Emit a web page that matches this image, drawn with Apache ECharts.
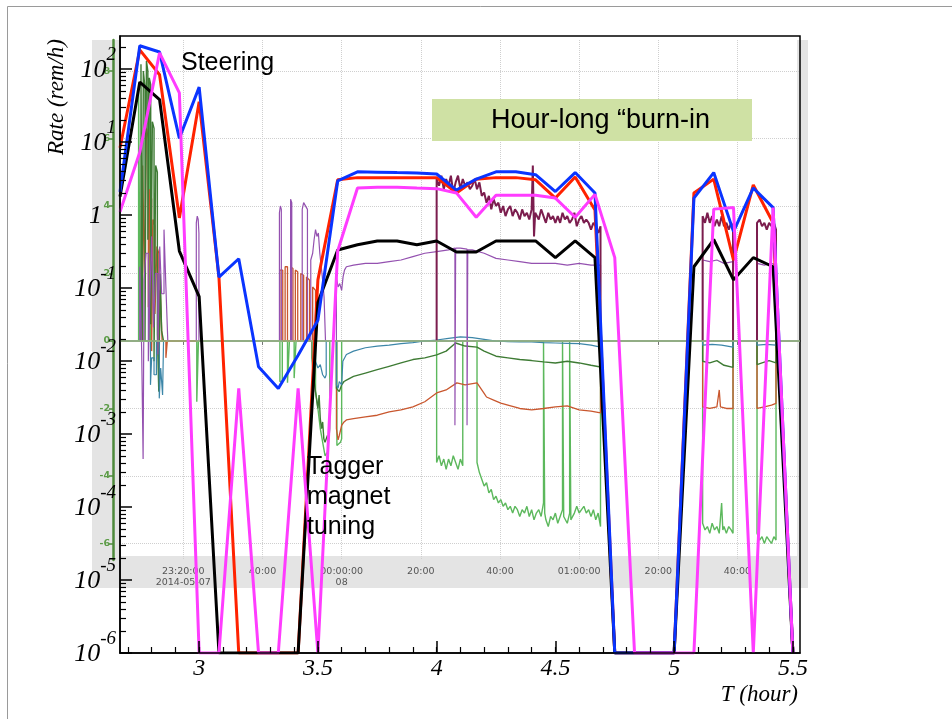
<!DOCTYPE html>
<html>
<head>
<meta charset="utf-8">
<script src="https://cdn.jsdelivr.net/npm/echarts@6/dist/echarts.min.js"></script>
<style>
  html, body { margin: 0; padding: 0; background: #fff; }
  #main { width: 952px; height: 719px; }
</style>
</head>
<body>
<div id="main"></div>
<script>
// time of each 5 min sample (hours)
var hours = [2.6667, 2.75, 2.8333, 2.9167, 3.0, 3.0833, 3.1667, 3.25, 3.3333, 3.4167,
             3.5, 3.5833, 3.6667, 3.75, 3.8333, 3.9167, 4.0, 4.0833, 4.1667, 4.25,
             4.3333, 4.4167, 4.5, 4.5833, 4.6667, 4.75, 4.8333, 4.9167, 5.0, 5.0833,
             5.1667, 5.25, 5.3333, 5.4167, 5.5];

// dose rates (rem/h), 1e-6 = nothing seen
var blueRate = [2.07, 207, 170, 11.2, 56.2, 0.141, 0.251, 0.0083, 0.0042, 0.012,
                0.036, 2.92, 3.89, 3.85, 3.80, 3.76, 3.63, 2.19, 3.09, 3.89,
                3.89, 3.55, 2.09, 3.80, 2.0, 1e-6, 1e-6, 1e-6, 1e-6, 1.70,
                3.80, 0.59, 2.34, 1.26, 1e-6];
var redRate = [8.3, 182, 83, 0.91, 35.5, 0.141, 1e-6, 1e-6, 1e-6, 1e-6,
               0.129, 3.02, 3.24, 3.24, 3.24, 3.24, 3.24, 2.0, 3.09, 3.24,
               3.24, 3.02, 1.70, 3.31, 1.17, 1e-6, 1e-6, 1e-6, 1e-6, 2.0,
               3.09, 0.24, 2.57, 0.78, 1e-6];
var blackRate = [1.78, 66, 38, 0.32, 0.076, 1e-6, 1e-6, 1e-6, 1e-6, 1e-6,
                 0.063, 0.33, 0.39, 0.44, 0.44, 0.39, 0.44, 0.31, 0.31, 0.44,
                 0.44, 0.44, 0.26, 0.44, 0.26, 1e-6, 1e-6, 1e-6, 1e-6, 0.195,
                 0.46, 0.129, 0.26, 0.195, 1e-6];
var magentaRate = [1.10, 7.2, 166, 46.8, 1e-6, 1e-6, 0.0042, 1e-6, 1e-6, 0.0042,
                   1e-6, 0.32, 2.34, 2.40, 2.40, 2.34, 2.29, 2.0, 0.93, 1.86,
                   1.86, 1.86, 1.70, 0.93, 1.91, 0.26, 1e-6, 1e-6, 1e-6, 1e-6,
                   1.20, 1.26, 1e-6, 1.26, 1e-6];

var xLabelValues = [3, 3.5, 4, 4.5, 5, 5.5];
var yLabelValues = [1e-6, 1e-5, 1e-4, 1e-3, 1e-2, 1e-1, 1, 10, 100];

// background monitor screenshot: its own clock axis and level scale
var clockT = [2.9333, 3.2667, 3.6, 3.9333, 4.2667, 4.6, 4.9333, 5.2667];
var clockLabels = ['23:20:00\n2014-05-07', '40:00', '00:00:00\n08', '20:00', '40:00', '01:00:00', '20:00', '40:00'];
var levelTicks = [-6, -4, -2, 0, 2, 4, 6, 8];

var maroonPts = [
  [4.000, 0], [4.000, 4.8], [4.010, 4.6], [4.020, 4.9], [4.030, 4.5], [4.040, 4.8], [4.050, 4.6], [4.060, 4.9],
  [4.070, 4.4], [4.080, 4.7], [4.090, 4.9], [4.100, 4.5], [4.110, 4.8], [4.120, 4.6], [4.130, 4.7], [4.140, 4.5],
  [4.150, 4.6], [4.160, 4.8], [4.170, 4.5], [4.180, 4.7], [4.190, 4.3], [4.200, 4.4], [4.210, 4.1], [4.220, 4.3],
  [4.230, 3.9], [4.240, 4.2], [4.250, 4.0], [4.260, 4.1], [4.270, 3.8], [4.280, 4.0], [4.290, 3.7], [4.300, 3.9],
  [4.310, 4.0], [4.320, 3.7], [4.330, 3.9], [4.340, 3.8], [4.350, 3.6], [4.360, 3.9], [4.370, 3.7], [4.380, 3.8],
  [4.390, 3.6], [4.400, 3.9], [4.405, 5.2], [4.410, 3.1], [4.415, 3.8], [4.430, 3.6], [4.440, 3.9], [4.450, 3.7],
  [4.460, 3.5], [4.470, 3.8], [4.480, 3.6], [4.490, 3.7], [4.500, 3.5], [4.510, 3.7], [4.520, 3.5], [4.530, 3.8],
  [4.540, 3.6], [4.550, 3.7], [4.560, 3.5], [4.570, 3.6], [4.580, 3.8], [4.590, 3.4], [4.600, 3.6], [4.610, 3.7],
  [4.620, 3.5], [4.630, 3.6], [4.640, 3.5], [4.650, 3.3], [4.660, 3.5], [4.670, 3.4], [4.680, 3.2], [4.690, 3.4],
  [4.690, 0], [4.691, null],
  [5.120, 0], [5.120, 3.7], [5.130, 3.5], [5.140, 3.8], [5.150, 3.5], [5.160, 3.7], [5.170, 3.4], [5.180, 3.6],
  [5.190, 3.4], [5.200, 3.7], [5.210, 3.4], [5.220, 3.5], [5.230, 3.3], [5.240, 3.5], [5.248, 3.4], [5.248, 0], [5.249, null],
  [5.349, 0], [5.349, 3.5], [5.360, 3.6], [5.370, 3.4], [5.380, 3.5], [5.390, 3.3], [5.400, 3.5], [5.410, 3.4],
  [5.420, 3.5], [5.429, 3.3], [5.429, 0]
];
var purplePts = [
  [2.750, 0], [2.750, 2.2], [2.758, 2.2], [2.758, -0.3], [2.764, -0.3], [2.764, -3.5], [2.768, -3.5], [2.768, 1.8],
  [2.776, 1.8], [2.776, 2.6], [2.786, 2.6], [2.786, -0.6], [2.792, -0.6], [2.792, 1.2], [2.800, 1.2], [2.800, 3.1],
  [2.808, 3.1], [2.808, 0.4], [2.816, 0.4], [2.816, 2.0], [2.826, 2.0], [2.826, -0.4], [2.834, -0.4], [2.834, 2.8],
  [2.842, 2.8], [2.842, 1.4], [2.852, 1.4], [2.852, 3.3], [2.860, 3.3], [2.860, 1.6], [2.868, 1.6], [2.868, 0], [2.869, null],
  [2.988, 0], [2.988, 3.5], [2.992, 3.7], [2.996, 3.6], [2.999, 3.2], [2.999, 0], [3.000, null],
  [3.338, 0], [3.338, 3.8], [3.342, 4.0], [3.346, 3.9], [3.346, 0], [3.347, null],
  [3.385, 0], [3.385, 4.2], [3.390, 4.1], [3.390, 0], [3.391, null],
  [3.434, 0], [3.434, 3.9], [3.440, 4.1], [3.448, 4.1], [3.456, 3.9], [3.456, 0], [3.457, null],
  [3.470, 0], [3.470, 2.4], [3.478, 2.6], [3.484, 3.0], [3.490, 3.3], [3.496, 3.1], [3.502, 3.2], [3.508, 2.6],
  [3.514, 2.2], [3.520, 1.8], [3.526, 1.3], [3.532, 0], [3.533, null],
  [3.578, 0], [3.578, 1.9], [3.585, 1.6], [3.592, 1.7], [3.600, 1.5], [3.606, 1.9], [3.612, 2.1], [3.620, 2.2],
  [3.650, 2.25], [3.700, 2.3], [3.750, 2.3], [3.800, 2.35], [3.850, 2.4], [3.900, 2.5], [3.950, 2.6], [4.000, 2.65],
  [4.050, 2.7], [4.077, 2.75], [4.077, -2.5], [4.080, -2.5], [4.080, 2.75], [4.100, 2.75], [4.128, 2.72], [4.128, -2.5],
  [4.131, -2.5], [4.131, 2.7], [4.150, 2.7], [4.200, 2.6], [4.250, 2.45], [4.300, 2.4], [4.350, 2.35], [4.400, 2.3],
  [4.450, 2.3], [4.500, 2.3], [4.550, 2.25], [4.600, 2.3], [4.650, 2.25], [4.690, 2.25], [4.690, 0], [4.691, null],
  [5.120, 0], [5.120, 2.4], [5.150, 2.35], [5.180, 2.4], [5.210, 2.3], [5.248, 2.35], [5.248, 0], [5.249, null],
  [5.349, 0], [5.349, 2.3], [5.380, 2.25], [5.410, 2.3], [5.429, 2.25], [5.429, 0]
];
var tealPts = [
  [2.795, 0], [2.795, -1.3], [2.800, -1.3], [2.800, -0.5], [2.810, -0.5], [2.810, -1.0], [2.820, -1.0], [2.820, 0], [2.821, null],
  [2.832, 0], [2.832, -1.7], [2.838, -1.7], [2.838, -0.8], [2.846, -0.8], [2.846, -1.6], [2.850, -1.6], [2.850, 0], [2.851, null],
  [3.490, 0], [3.490, -0.6], [3.500, -0.8], [3.510, -0.7], [3.520, -1.0], [3.530, -1.1], [3.535, -1.0], [3.535, 0], [3.536, null],
  [3.578, 0], [3.578, -1.3], [3.585, -1.4], [3.590, -1.2], [3.600, -1.3], [3.605, -0.6], [3.620, -0.4], [3.650, -0.3],
  [3.700, -0.2], [3.750, -0.15], [3.800, -0.12], [3.850, -0.08], [3.900, -0.05], [3.950, 0.0], [4.000, 0.03], [4.050, 0.08],
  [4.100, 0.12], [4.150, 0.1], [4.200, 0.05], [4.250, 0.0], [4.300, -0.02], [4.350, -0.03], [4.400, -0.03], [4.450, -0.05],
  [4.500, -0.06], [4.550, -0.07], [4.600, -0.08], [4.650, -0.12], [4.690, -0.18], [4.690, 0], [4.691, null],
  [5.120, 0], [5.120, -0.12], [5.160, -0.1], [5.200, -0.12], [5.248, -0.18], [5.248, 0], [5.249, null],
  [5.349, 0], [5.349, -0.12], [5.390, -0.1], [5.429, -0.12], [5.429, 0]
];
var darkGreenPts = [
  [2.755, 0], [2.755, 8.2], [2.760, 8.2], [2.760, 0], [2.765, 0], [2.765, 8.0], [2.772, 7.5], [2.772, 0],
  [2.778, 0], [2.778, 8.3], [2.784, 8.0], [2.784, 3.0], [2.790, 3.0], [2.790, 7.8], [2.796, 7.6], [2.796, 0.5],
  [2.803, 0.5], [2.803, 6.5], [2.810, 6.3], [2.810, -0.6], [2.817, -0.6], [2.817, 5.2], [2.824, 5.0], [2.824, 0.2],
  [2.830, 0.2], [2.830, -1.5], [2.836, -1.5], [2.836, 2.0], [2.842, 2.0], [2.842, 0.3], [2.850, 0.3], [2.850, 0], [2.851, null],
  [3.475, 0], [3.475, -0.5], [3.480, -1.0], [3.490, -1.5], [3.500, -2.0], [3.505, -1.6], [3.510, -2.3], [3.515, -2.6],
  [3.520, -2.4], [3.525, -2.9], [3.530, -3.0], [3.540, -2.8], [3.541, null],
  [3.578, 0], [3.578, -1.4], [3.590, -1.5], [3.600, -1.3], [3.610, -1.2], [3.620, -1.16], [3.650, -1.05], [3.700, -0.95],
  [3.750, -0.85], [3.800, -0.75], [3.850, -0.65], [3.900, -0.55], [3.950, -0.5], [4.000, -0.41], [4.040, -0.3], [4.080, -0.06],
  [4.120, -0.15], [4.170, -0.18], [4.200, -0.3], [4.250, -0.45], [4.300, -0.5], [4.350, -0.55], [4.400, -0.58], [4.450, -0.62],
  [4.500, -0.65], [4.550, -0.6], [4.600, -0.65], [4.650, -0.72], [4.690, -0.77], [4.690, 0], [4.691, null],
  [5.120, 0], [5.120, -0.6], [5.150, -0.65], [5.180, -0.58], [5.210, -0.72], [5.248, -0.78], [5.248, 0], [5.249, null],
  [5.349, 0], [5.349, -0.7], [5.370, -0.65], [5.400, -0.58], [5.429, -0.65], [5.429, 0]
];
var orangePts = [
  [2.762, 0], [2.762, 5.2], [2.770, 5.2], [2.770, 2.0], [2.778, 2.0], [2.778, 6.3], [2.786, 6.0], [2.786, 1.0],
  [2.792, 1.0], [2.792, 4.5], [2.800, 4.2], [2.800, -0.3], [2.806, -0.3], [2.806, 3.6], [2.814, 3.4], [2.814, 0.8],
  [2.822, 0.8], [2.822, 2.8], [2.830, 2.6], [2.830, -0.8], [2.836, -0.8], [2.836, 1.5], [2.844, 1.5], [2.844, 0],
  [2.860, 0], [2.860, -0.5], [2.866, -0.5], [2.866, 0], [2.991, 0], [2.992, null],
  [3.340, 0], [3.340, 2.1], [3.352, 2.1], [3.352, 0], [3.362, 0], [3.362, 2.2], [3.372, 2.2], [3.372, 0],
  [3.385, 0], [3.385, 2.2], [3.395, 2.15], [3.395, 0], [3.405, 0], [3.405, 2.1], [3.415, 2.05], [3.415, 0],
  [3.428, 0], [3.428, 2.0], [3.440, 1.95], [3.440, 0], [3.452, 0], [3.452, 1.9], [3.465, 1.8], [3.465, 0],
  [3.478, 0], [3.478, 1.6], [3.490, 1.5], [3.490, 0], [3.491, null],
  [3.578, 0], [3.578, -2.6], [3.585, -2.93], [3.590, -2.8], [3.600, -2.5], [3.610, -2.4], [3.620, -2.34], [3.650, -2.3],
  [3.700, -2.25], [3.750, -2.2], [3.800, -2.1], [3.850, -2.04], [3.900, -1.95], [3.950, -1.8], [4.000, -1.54], [4.040, -1.45],
  [4.085, -1.24], [4.120, -1.3], [4.170, -1.24], [4.200, -1.55], [4.210, -1.66], [4.240, -1.75], [4.270, -1.84], [4.300, -1.9],
  [4.350, -2.0], [4.400, -2.04], [4.450, -2.0], [4.500, -1.95], [4.550, -1.92], [4.600, -2.04], [4.650, -2.08], [4.690, -2.13],
  [4.690, 0], [4.691, null],
  [5.120, 0], [5.120, -1.95], [5.150, -2.0], [5.180, -1.95], [5.190, -1.45], [5.195, -1.95], [5.220, -2.0], [5.248, -2.0],
  [5.248, 0], [5.249, null],
  [5.349, 0], [5.349, -2.0], [5.380, -1.95], [5.410, -1.9], [5.429, -1.85], [5.429, 0]
];
var lightGreenPts = [
  [2.745, 0], [2.745, 7.5], [2.752, 7.5], [2.752, 0], [2.790, 0], [2.790, 7.0], [2.796, 7.0], [2.796, 0], [2.797, null],
  [2.990, 0], [2.990, -1.8], [2.997, -1.8], [2.997, 0], [2.998, null],
  [3.340, 0], [3.340, -1.2], [3.350, -1.2], [3.350, 0], [3.372, 0], [3.372, -1.24], [3.380, -1.2], [3.380, 0],
  [3.400, 0], [3.400, -1.1], [3.408, -1.1], [3.408, 0], [3.409, null],
  [3.490, 0], [3.490, -1.5], [3.500, -2.0], [3.510, -2.6], [3.520, -3.0], [3.530, -3.4], [3.540, -3.3], [3.550, -2.6], [3.550, 0], [3.551, null],
  [3.580, 0], [3.580, -3.1], [3.595, -3.0], [3.600, -2.9], [3.600, 0], [3.601, null],
  [4.000, 0], [4.000, -3.6], [4.010, -3.4], [4.020, -3.7], [4.030, -3.5], [4.040, -3.8], [4.050, -3.5], [4.060, -3.7],
  [4.070, -3.4], [4.080, -3.6], [4.090, -3.8], [4.100, -3.5], [4.110, -3.7], [4.110, 0], [4.111, null],
  [4.170, 0], [4.170, -3.6], [4.180, -3.9], [4.190, -4.1], [4.200, -4.3], [4.210, -4.2], [4.220, -4.5], [4.230, -4.4],
  [4.240, -4.7], [4.250, -4.6], [4.260, -4.8], [4.270, -4.7], [4.280, -4.9], [4.290, -4.8], [4.300, -5.0], [4.310, -4.9],
  [4.320, -5.1], [4.330, -4.9], [4.340, -5.0], [4.350, -5.2], [4.360, -5.0], [4.370, -5.1], [4.380, -4.9], [4.390, -5.2],
  [4.400, -5.0], [4.410, -5.3], [4.420, -5.1], [4.430, -5.0], [4.440, -5.2], [4.450, -4.8], [4.450, 0], [4.455, 0],
  [4.455, -5.1], [4.460, -5.3], [4.470, -5.5], [4.480, -5.2], [4.490, -5.3], [4.500, -5.1], [4.510, -5.4], [4.520, -5.2],
  [4.530, -5.0], [4.530, 0], [4.535, 0], [4.535, -5.2], [4.550, -5.4], [4.560, -5.1], [4.560, 0], [4.565, 0],
  [4.565, -5.3], [4.580, -5.1], [4.590, -4.9], [4.600, -5.1], [4.610, -5.0], [4.620, -4.9], [4.630, -5.1], [4.640, -5.0],
  [4.650, -5.2], [4.660, -5.0], [4.670, -5.3], [4.680, -5.1], [4.690, -5.5], [4.690, 0], [4.691, null],
  [5.120, 0], [5.120, -5.4], [5.130, -5.6], [5.140, -5.5], [5.150, -5.7], [5.160, -5.4], [5.170, -5.6], [5.180, -5.5],
  [5.190, -5.7], [5.200, -4.8], [5.205, -5.6], [5.210, -5.5], [5.220, -5.7], [5.230, -5.5], [5.240, -5.6], [5.248, -5.7],
  [5.248, 0], [5.249, null],
  [5.349, 0], [5.349, -5.7], [5.360, -5.9], [5.370, -5.8], [5.380, -6.0], [5.390, -5.8], [5.400, -5.9], [5.410, -6.0],
  [5.420, -5.8], [5.429, -5.9], [5.429, 0]
];

var serif = 'Liberation Serif';
var sans = 'Liberation Sans';
var xMin = 2.6667, xMax = 5.53;
var yMin = 1e-6, yMax = 282;

var minorX = [];
for (var t = 27; t <= 55; t++) minorX.push(t / 10);
var minorY = [];
for (var k = -6; k <= 2; k++) {
	for (var m = 2; m <= 9; m++) {
		if (m * Math.pow(10, k) < yMax) minorY.push(m * Math.pow(10, k));
	}
}

function pairs(xs, ys) {
	var out = [];
	for (var i = 0; i < xs.length; i++) out.push([xs[i], ys[i]]);
	return out;
}

function mainLine(name, color, rates) {
	return {
		name: name, type: 'line', xAxisIndex: 0, yAxisIndex: 0,
		data: pairs(hours, rates), symbol: 'none', z: 5, silent: true,
		lineStyle: { color: color, width: 3 }
	};
}

function traceLine(name, color, pts, width, extra) {
	var s = {
		name: name, type: 'line', xAxisIndex: 1, yAxisIndex: 1,
		data: pts, symbol: 'none', z: 3, silent: true,
		lineStyle: { color: color, width: width }
	};
	if (extra) s.markLine = extra;
	return s;
}

var chart = echarts.init(document.getElementById('main'), null, { renderer: 'canvas' });

var option = {
	animation: false,
	backgroundColor: '#fff',
	grid: [
		{ left: 120, right: 152, top: 36, bottom: 66, show: true, borderColor: '#000', borderWidth: 1.5, backgroundColor: 'transparent', z: 4 },
		{ left: 120, right: 152, top: 40, bottom: 159 }
	],
	xAxis: [
		{
			type: 'value', gridIndex: 0, min: xMin, max: xMax, position: 'bottom', z: 6,
			axisLine: { lineStyle: { color: '#000', width: 1.5 } },
			axisTick: { inside: true, length: 6, customValues: minorX, lineStyle: { color: '#000', width: 1.2 } },
			axisLabel: {
				customValues: xLabelValues, margin: 4,
				fontFamily: serif, fontStyle: 'italic', fontSize: 24, color: '#000'
			},
			splitLine: { show: false }
		},
		{
			type: 'value', gridIndex: 1, min: xMin, max: xMax, position: 'bottom',
			axisLine: { lineStyle: { color: '#8a8a8a', width: 2 } },
			axisTick: { length: 4, customValues: clockT, lineStyle: { color: '#777' } },
			axisLabel: {
				customValues: clockT, margin: 6,
				fontFamily: 'DejaVu Sans', fontSize: 9.5, color: '#555', lineHeight: 11,
				formatter: function (v) {
					for (var i = 0; i < clockT.length; i++) {
						if (Math.abs(clockT[i] - v) < 0.01) return clockLabels[i];
					}
					return '';
				}
			},
			splitLine: { show: true, lineStyle: { color: '#cfcfcf', type: 'dotted', width: 1 } }
		},
		{
			type: 'value', gridIndex: 0, min: xMin, max: xMax, position: 'bottom', z: 6,
			axisLine: { show: false },
			axisTick: { inside: true, length: 12, customValues: xLabelValues, lineStyle: { color: '#000', width: 1.5 } },
			axisLabel: { show: false },
			splitLine: { show: false }
		}
	],
	yAxis: [
		{
			type: 'log', gridIndex: 0, min: yMin, max: yMax, position: 'left', z: 6,
			axisLine: { show: true, lineStyle: { color: '#000', width: 1.5 } },
			axisTick: { show: true, inside: true, length: 6, customValues: minorY, lineStyle: { color: '#000', width: 1.2 } },
			axisLabel: {
				customValues: yLabelValues, margin: 4, padding: [0, 0, 9, 0],
				formatter: function (v) {
					var e = Math.round(Math.log(v) / Math.LN10);
					if (e === 0) return '{b|1}{sp|}';
					return '{b|10}{e|' + e + '}';
				},
				rich: {
					b: { fontFamily: serif, fontStyle: 'italic', fontSize: 26, color: '#000', verticalAlign: 'bottom', lineHeight: 38 },
					e: { fontFamily: serif, fontStyle: 'italic', fontSize: 19, color: '#000', verticalAlign: 'top', lineHeight: 20 },
					sp: { width: 14 }
				}
			},
			splitLine: { show: false }
		},
		{
			type: 'value', gridIndex: 1, min: -6.49, max: 8.92, position: 'left', offset: 7,
			axisLine: { show: true, lineStyle: { color: '#4e8a3c', width: 2.5 } },
			axisTick: { show: true, length: 4, customValues: levelTicks, lineStyle: { color: '#4e8a3c', width: 1.5 } },
			axisLabel: {
				customValues: levelTicks, margin: 3,
				fontFamily: 'DejaVu Sans', fontSize: 9.5, fontWeight: 'bold', color: '#5c9c47'
			},
			splitLine: { show: true, lineStyle: { color: '#cfcfcf', type: 'dotted', width: 1 } }
		},
		{
			type: 'log', gridIndex: 0, min: yMin, max: yMax, position: 'left', z: 6,
			axisLine: { show: false },
			axisTick: { show: true, inside: true, length: 12, customValues: yLabelValues, lineStyle: { color: '#000', width: 1.5 } },
			axisLabel: { show: false },
			splitLine: { show: false }
		}
	],
	series: [
		traceLine('level', '#5cb85c', lightGreenPts, 1.4, {
			silent: true, symbol: 'none', label: { show: false },
			lineStyle: { color: '#94b883', width: 1.5, type: 'solid' },
			data: [{ yAxis: 0 }]
		}),
		traceLine('orange', '#c9572e', orangePts, 1.3),
		traceLine('darkgreen', '#3e7b34', darkGreenPts, 1.4),
		traceLine('teal', '#3c86a8', tealPts, 1.2),
		traceLine('purple', '#9451b0', purplePts, 1.2),
		traceLine('maroon', '#7b1d4e', maroonPts, 2)
		,
		mainLine('red', '#ff2200', redRate),
		mainLine('black', '#000000', blackRate),
		mainLine('blue', '#0a34ff', blueRate),
		mainLine('magenta', '#ff3cff', magentaRate)
	],
	graphic: [
		{ type: 'rect', z: -1, z2: 0, silent: true, shape: { x: 7.5, y: 6.5, width: 1000, height: 800 }, style: { fill: 'none', stroke: '#9a9a9a', lineWidth: 1 } },
		{ type: 'rect', z: -1, z2: 1, silent: true, shape: { x: 92, y: 40, width: 716, height: 548 }, style: { fill: '#e4e4e4' } },
		{ type: 'rect', z: -1, z2: 2, silent: true, shape: { x: 120, y: 40, width: 677, height: 516 }, style: { fill: '#fff' } },
		{ type: 'rect', z: 10, silent: true, shape: { x: 432, y: 99, width: 320, height: 42 }, style: { fill: '#cfe1a4' } },
		{ type: 'text', z: 11, silent: true, x: 491, y: 121, style: { text: 'Hour-long \u201Cburn-in', font: '27px ' + sans, fill: '#000', verticalAlign: 'middle' } },
		{ type: 'text', z: 11, silent: true, x: 181, y: 63, style: { text: 'Steering', font: '25px ' + sans, fill: '#000', verticalAlign: 'middle' } },
		{ type: 'text', z: 11, silent: true, x: 307, y: 452, style: { text: 'Tagger\nmagnet\ntuning', font: '25px ' + sans, fill: '#000', verticalAlign: 'top', lineHeight: 30 } },
		{ type: 'text', z: 11, silent: true, x: 57, y: 97, rotation: Math.PI / 2, style: { text: 'Rate (rem/h)', font: 'italic 23px ' + serif, fill: '#000', align: 'center', verticalAlign: 'middle' } },
		{ type: 'text', z: 11, silent: true, x: 798, y: 695, style: { text: 'T (hour)', font: 'italic 23px ' + serif, fill: '#000', align: 'right', verticalAlign: 'middle' } }
	]
};

chart.setOption(option);
</script>
</body>
</html>
